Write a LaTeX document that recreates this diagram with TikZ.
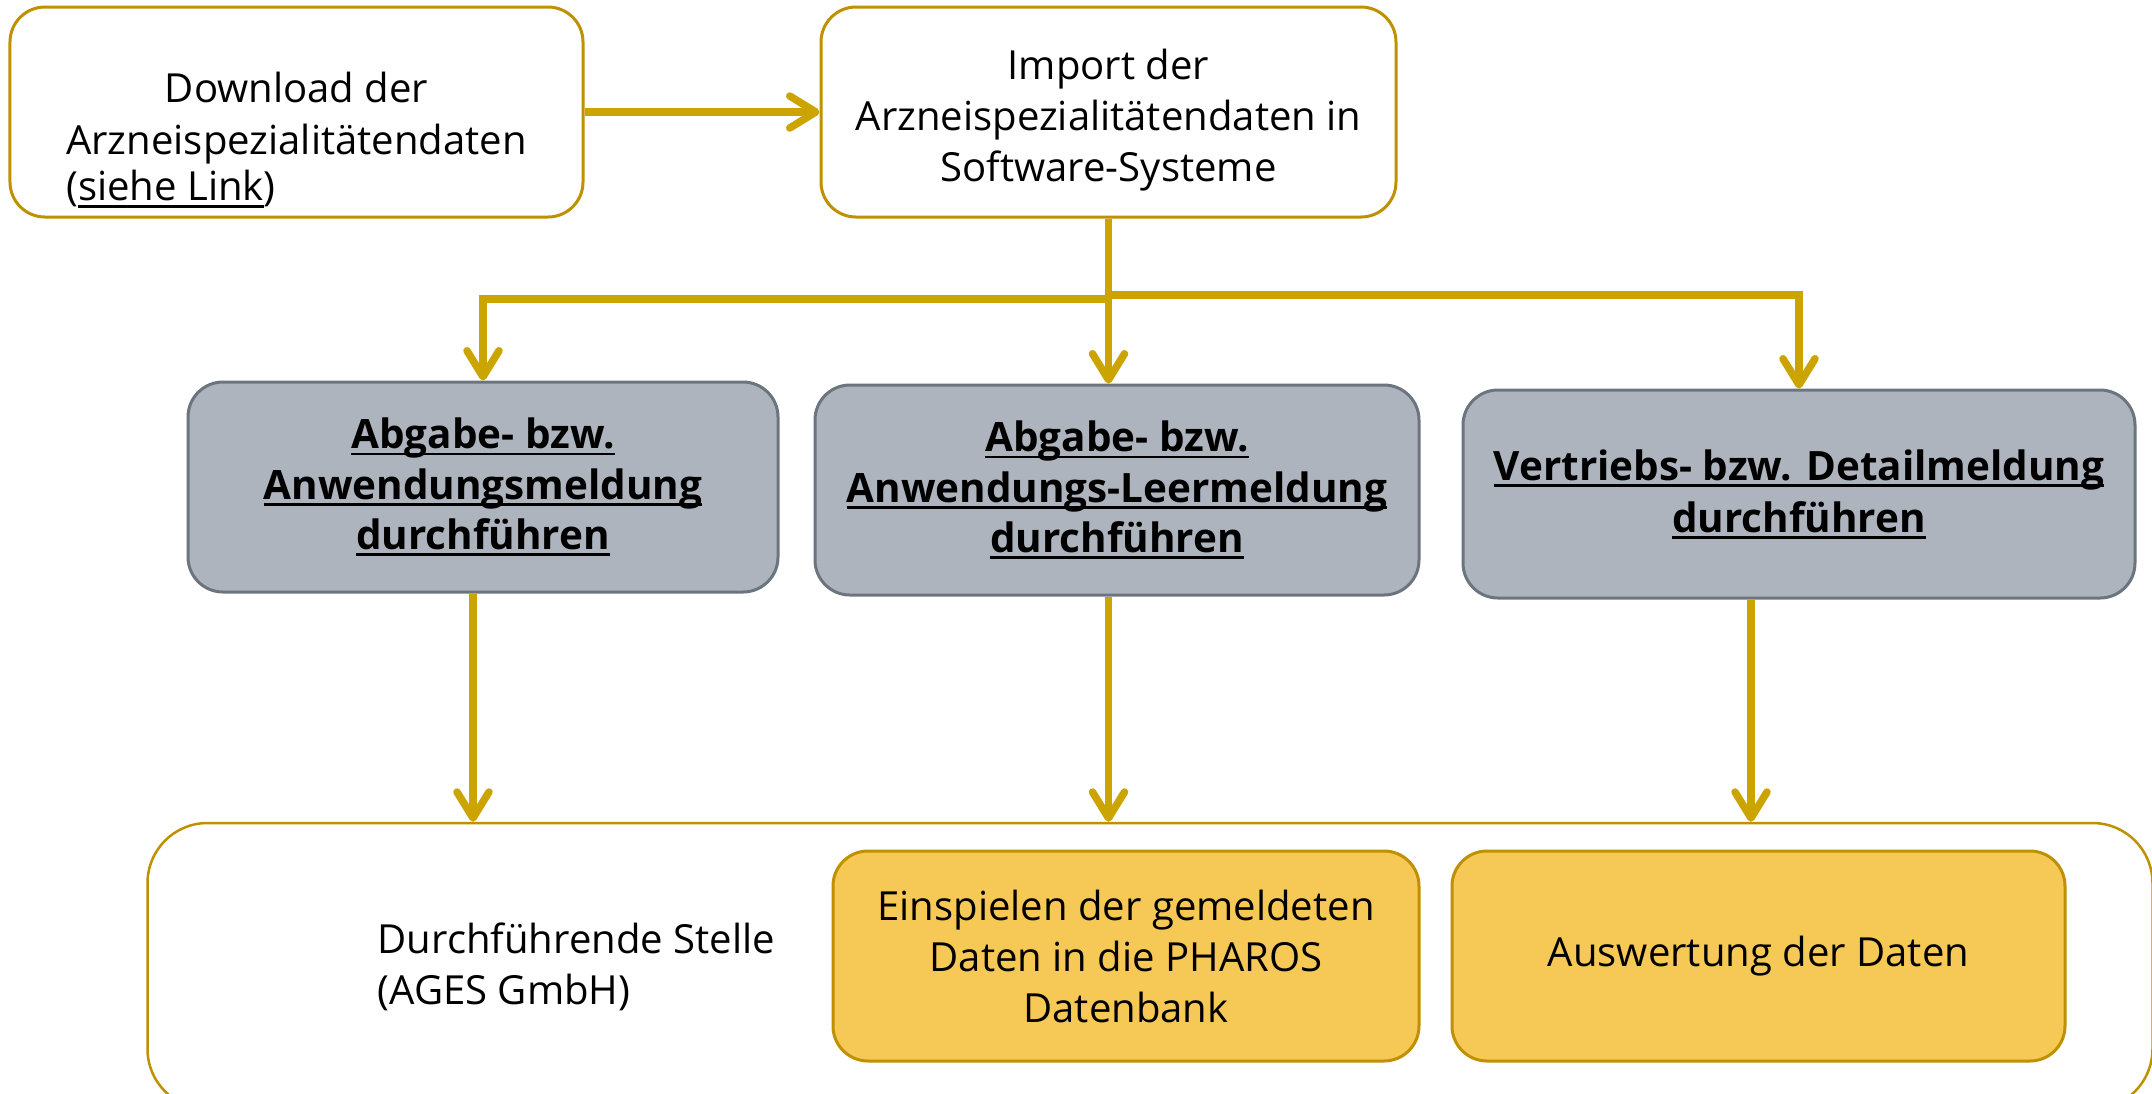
\documentclass[tikz,border=0pt]{standalone}
\usepackage{fontspec}
\setmainfont{Open Sans}
\usetikzlibrary{arrows.meta}
\newcommand{\ulined}[1]{\setbox0\hbox{#1}\rlap{\rule[-1.9pt]{\wd0}{0.75pt}}\box0}
\definecolor{arrowgold}{RGB}{204,164,0}
\definecolor{linegold}{RGB}{191,144,0}
\definecolor{boxgray}{RGB}{173,180,189}
\definecolor{linegray}{RGB}{108,117,125}
\definecolor{boxyellow}{RGB}{246,200,85}

\begin{document}
\begin{tikzpicture}[>={Straight Barb[length=2.6mm,width=3.2mm,round]},
    flow/.style={->, draw=arrowgold, line width=0.75mm},
    plaintext/.style={font=\fontsize{11.4pt}{14.5pt}\selectfont},
    whitebox/.style={draw=linegold, line width=0.3mm, fill=white, rounded corners=3.5mm,
        align=center, plaintext, minimum height=2.1cm},
    graybox/.style={draw=linegray, line width=0.3mm, fill=boxgray, rounded corners=3.5mm,
        align=center, font=\bfseries\fontsize{11.5pt}{14.3pt}\selectfont, minimum height=2.1cm},
    yellowbox/.style={draw=linegold, line width=0.3mm, fill=boxyellow, rounded corners=3.5mm,
        align=center, plaintext, minimum height=2.1cm}]
    \useasboundingbox[fill=white] (0,0) rectangle (21.52,-10.93);

        \draw (11.50,-9.66) node[whitebox, rounded corners=6mm, line width=0.25mm,
            minimum width=20.05cm, minimum height=2.86cm] (stelle) {};
        \draw (3.77,-9.67) node[anchor=west, align=left, inner sep=0pt, plaintext] (stelletext)
            {Durchführende Stelle\\(AGES GmbH)};

        \draw (2.965,-1.12) node[whitebox, minimum width=5.73cm] (download)
            {\raisebox{-3.9mm}[0pt][0pt]{\begin{tabular}{@{}l@{}}
            \multicolumn{1}{@{}c@{}}{Download der}\\[0.3pt]
            Arzneispezialitätendaten\\[-1.2pt]
            (\ulined{siehe Link})\end{tabular}}};
        \draw (11.085,-1.12) node[whitebox, minimum width=5.75cm] (import)
            {\raisebox{-1.8mm}[0pt][0pt]{\begin{tabular}{@{}c@{}}
            Import der\\Arzneispezialitätendaten in\\Software-Systeme\end{tabular}}};

        \draw (4.83,-4.87) node[graybox, minimum width=5.90cm] (abgabe)
            {\ulined{Abgabe- bzw.}\\\ulined{Anwendungsmeldung}\\\ulined{durchführen}};
        \draw (11.17,-4.90) node[graybox, minimum width=6.04cm] (leer)
            {\ulined{Abgabe- bzw.}\\\ulined{Anwendungs-Leermeldung}\\\ulined{durchführen}};
        \draw (17.99,-4.94) node[graybox, minimum width=6.72cm, minimum height=2.08cm,
            font=\bfseries\fontsize{11.5pt}{14.8pt}\selectfont] (vertrieb)
            {\ulined{Vertriebs- bzw. Detailmeldung}\\\ulined{durchführen}};

        \draw (11.26,-9.56) node[yellowbox, minimum width=5.86cm] (einspielen)
            {Einspielen der gemeldeten\\Daten in die PHAROS\\Datenbank};
        \draw (17.585,-9.56) node[yellowbox, minimum width=6.13cm] (auswertung)
            {\raisebox{-0.5mm}{Auswertung der Daten}};

        \coordinate (split) at (11.09,-2.95);
        \draw[flow] (download) -- (import);
        \draw[flow] (import.south) -- (import.south |- leer.north);
        \draw[flow] ([yshift=-0.4mm]split) -| (abgabe.north);
        \draw[flow] (split) -| (vertrieb.north);

        \draw[flow] ([xshift=-1mm]abgabe.south) -- ([xshift=-1mm]abgabe.south |- stelle.north);
        \draw[flow] (import.south |- leer.south) -- (import.south |- stelle.north);
        \draw[flow] ([xshift=-4.8mm]vertrieb.south) -- ([xshift=-4.8mm]vertrieb.south |- stelle.north);
    \end{tikzpicture}
\end{document}
